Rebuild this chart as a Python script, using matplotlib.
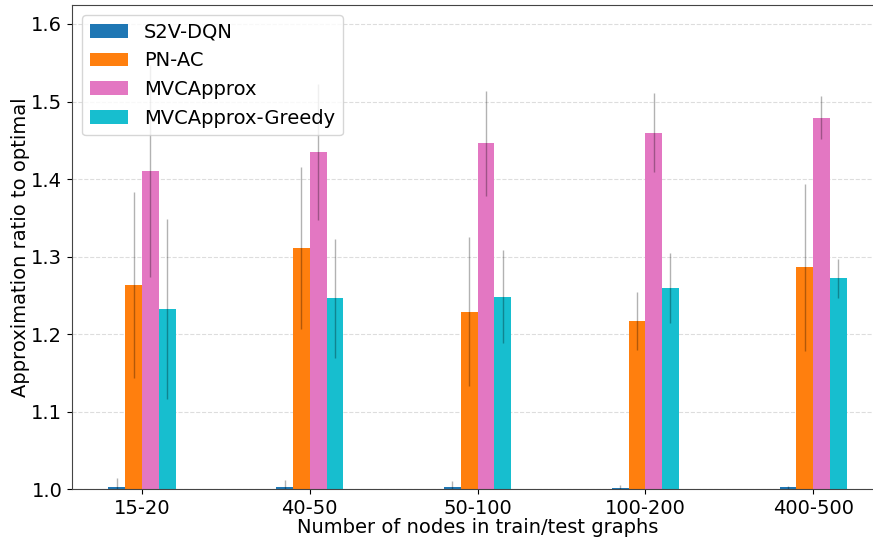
import matplotlib.pyplot as plt
import numpy as np

groups = ['15-20', '40-50', '50-100', '100-200', '400-500']
methods = ['S2V-DQN', 'PN-AC', 'MVCApprox', 'MVCApprox-Greedy']
colors = ['#1f77b4', '#ff7f0e', '#e377c2', '#17becf']

s2v_mean = [1.002, 1.002, 1.003, 1.001, 1.002]
s2v_err = [0.012, 0.010, 0.008, 0.004, 0.002]
pnac_mean = [1.263, 1.311, 1.229, 1.217, 1.286]
pnac_err = [0.120, 0.104, 0.096, 0.037, 0.108]
mvc_mean = [1.410, 1.435, 1.446, 1.460, 1.479]
mvc_err = [0.137, 0.088, 0.068, 0.051, 0.028]
greedy_mean = [1.232, 1.246, 1.248, 1.259, 1.272]
greedy_err = [0.116, 0.077, 0.060, 0.045, 0.025]

means = [s2v_mean, pnac_mean, mvc_mean, greedy_mean]
errs = [s2v_err, pnac_err, mvc_err, greedy_err]

fig = plt.figure(figsize=(8.73, 5.38), dpi=100)
ax = fig.add_axes([0.0825, 0.091, 0.929, 0.8997])

x = np.arange(len(groups))
w = 0.1
offsets = [-1.5, -0.5, 0.5, 1.5]
for i in range(len(methods)):
    ax.bar(x + offsets[i] * w, np.array(means[i]) - 1.0, w, bottom=1.0,
           color=colors[i], label=methods[i],
           yerr=errs[i], ecolor=(0, 0, 0, 0.3), error_kw={'elinewidth': 1.0})

ax.set_xticks(x)
ax.set_xticklabels(groups, fontsize=14)
ax.set_xlim(-0.417, 4.417)
ax.set_ylim(1.0, 1.6245)
ax.set_yticks([1.0, 1.1, 1.2, 1.3, 1.4, 1.5, 1.6])
ax.tick_params(axis='y', labelsize=14)
ax.yaxis.grid(True, linestyle='--', color='#dddddd', linewidth=0.8)
ax.set_axisbelow(True)
for s in ax.spines.values():
    s.set_color('#444444')

ax.set_xlabel('Number of nodes in train/test graphs', fontsize=14, labelpad=0)
ax.set_ylabel('Approximation ratio to optimal', fontsize=14, labelpad=1)
ax.legend(loc='upper left', fontsize=14, handlelength=2.0)

plt.savefig('out.png')
